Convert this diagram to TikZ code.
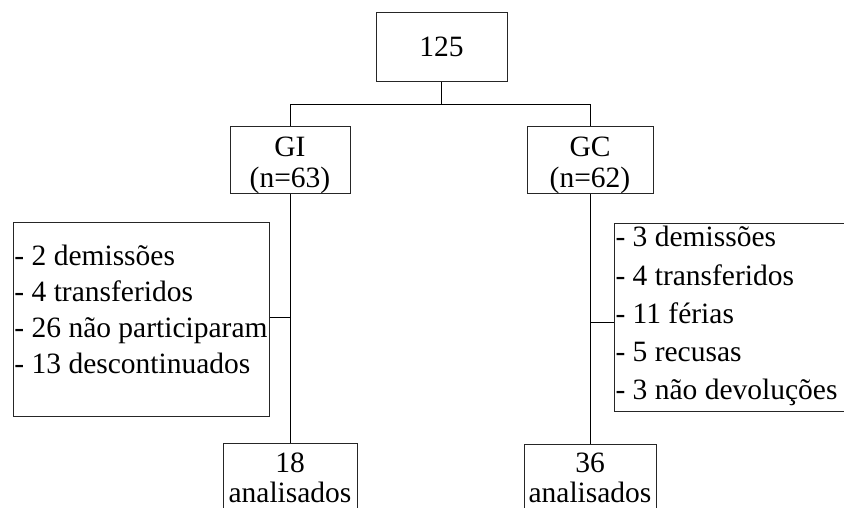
\documentclass[tikz,border=0pt]{standalone}
\usepackage{fontspec}
\setmainfont{Liberation Serif}
\begin{document}
\begin{tikzpicture}[x=1pt,y=-1pt,
  box/.style={draw=black!85,line width=1pt,inner sep=0pt,anchor=base},
  txt/.style={font=\fontsize{29.5}{32}\selectfont,align=center},
  conn/.style={draw=black,line width=1pt}]
\useasboundingbox (0,0) rectangle (844,508);
\clip (0,0) rectangle (844,508);
% top
\node[box,txt,minimum width=131pt,text height=44pt,text depth=25pt] (top) at (441.5,57) {125};
\node[box,txt,minimum width=120pt,text height=61pt,text depth=6pt] (gi) at (290,188) {GI\\(n=63)};
\node[box,txt,minimum width=126pt,text height=61pt,text depth=6pt] (gc) at (590,188) {GC\\(n=62)};
% lists
\node[box,font=\fontsize{29.5}{35.7}\selectfont,align=left,minimum width=256pt,
      text height=151pt,text depth=43pt] (ll) at (141,373)
  {- 2 demissões\\- 4 transferidos\\- 26 não participaram\\- 13 descontinuados};
\node[box,font=\fontsize{29.5}{38.25}\selectfont,align=flush left,inner xsep=1pt,text width=240pt,
      anchor=base west,text height=24pt,text depth=164pt] (rl) at (614,247)
  {- 3 demissões\\- 4 transferidos\\- 11 férias\\- 5 recusas\\- 3 não devoluções};
% bottom
\node[box,font=\fontsize{29.5}{30}\selectfont,align=center,minimum width=134pt,text height=59pt,text depth=8pt] (b18) at (290,502) {18\\analisados};
\node[box,font=\fontsize{29.5}{30}\selectfont,align=center,minimum width=132pt,text height=58pt,text depth=8pt] (b36) at (590,502) {36\\analisados};
% connectors
\coordinate (j) at (441.5,105);
\coordinate (tl) at (290,317);
\coordinate (tr) at (591,322);
\draw[conn] (top.south) -- (j);
\draw[conn] (gi.north) -- (gi.north |- j) -- (gc.north |- j) -- (gc.north);
\draw[conn] (gi.south) -- (b18.north);
\draw[conn] (gc.south) -- (b36.north);
\draw[conn] (tl) -- (tl -| ll.east);
\draw[conn] (tr) -- (tr -| rl.west);
\end{tikzpicture}
\end{document}
